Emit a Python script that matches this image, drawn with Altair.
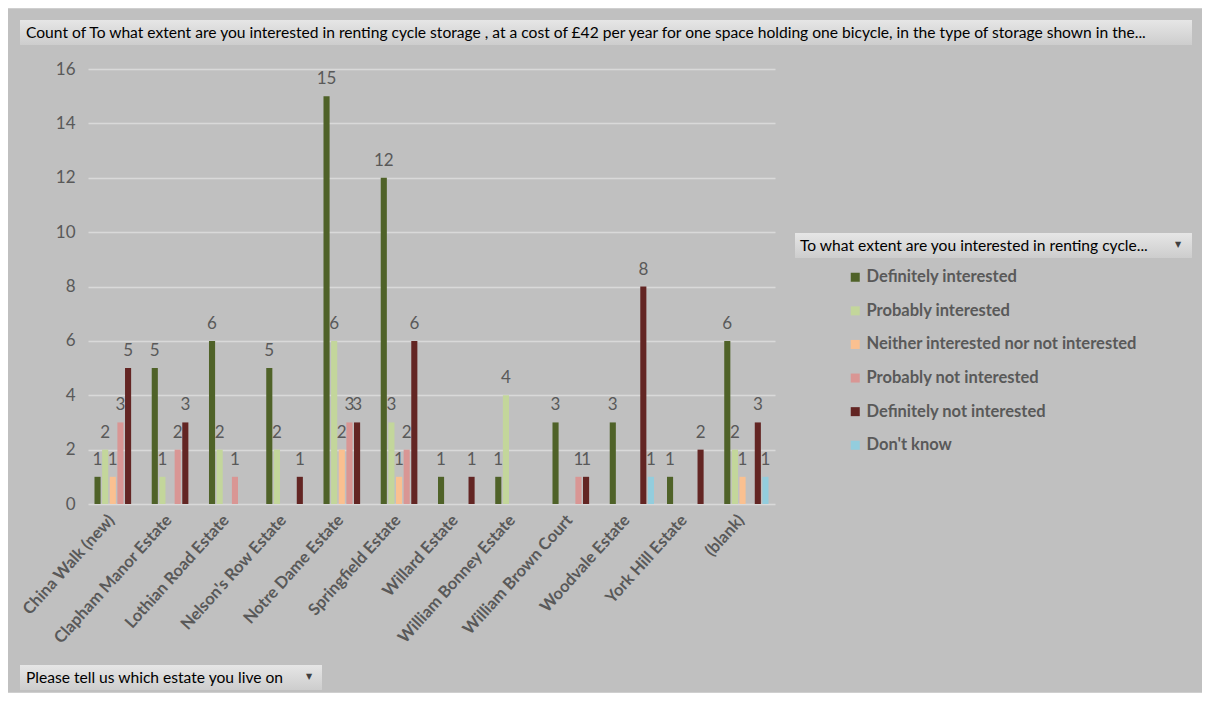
import altair as alt
import pandas as pd

# ---------------- data ----------------
estates = [
    "China Walk (new)", "Clapham Manor Estate", "Lothian Road Estate",
    "Nelson's Row Estate", "Notre Dame Estate", "Springfield Estate",
    "Willard Estate", "William Bonney Estate", "William Brown Court",
    "Woodvale Estate", "York Hill Estate", "(blank)",
]
series = [
    "Definitely interested", "Probably interested",
    "Neither interested nor not interested", "Probably not interested",
    "Definitely not interested", "Don't know",
]
definitely_interested = [1, 5, 6, 5, 15, 12, 1, 1, 3, 3, 1, 6]
probably_interested = [2, 1, 2, 2, 6, 3, 0, 4, 0, 0, 0, 2]
neither = [1, 0, 0, 0, 2, 1, 0, 0, 0, 0, 0, 1]
probably_not = [3, 2, 1, 0, 3, 2, 0, 0, 1, 0, 0, 0]
definitely_not = [5, 3, 0, 1, 3, 6, 1, 0, 1, 8, 2, 3]
dont_know = [0, 0, 0, 0, 0, 0, 0, 0, 0, 1, 0, 1]
y_ticks = [0, 2, 4, 6, 8, 10, 12, 14, 16]

colors = ["#4F6228", "#C3D69B", "#FAC090", "#D99694", "#632523", "#93CDDD"]

title_text = ("Count of To what extent are you interested in renting cycle storage , at a cost of "
              "£42 per year for one space holding one bicycle, in the type of storage shown in the...")
legend_header = "To what extent are you interested in renting cycle..."
axis_button = "Please tell us which estate you live on"

values_by_series = [definitely_interested, probably_interested, neither,
                    probably_not, definitely_not, dont_know]
rows = []
for s, vals in zip(series, values_by_series):
    for e, v in zip(estates, vals):
        rows.append({"estate": e, "response": s, "count": v})
df = pd.DataFrame(rows)

FONT = "Lato"
W, H = 687, 435
BTN = 15.6

x_enc = alt.X(
    "estate:N", sort=estates,
    scale=alt.Scale(paddingInner=0.2, paddingOuter=0.1),
    axis=alt.Axis(title=None, labelAngle=-48, labelFontSize=16.5, labelFontWeight="bold",
                  labelColor="#595959", ticks=False, domain=False, grid=False,
                  labelPadding=13, labelOffset=-5, labelFont=FONT, labelLimit=300),
)
xo_enc = alt.XOffset("response:N", sort=series,
                     scale=alt.Scale(domain=series, paddingInner=0.2, paddingOuter=0.1))
y_enc = alt.Y(
    "count:Q", scale=alt.Scale(domain=[0, 16], nice=False),
    axis=alt.Axis(values=y_ticks, title=None, grid=True, gridColor="#d9d9d9", gridWidth=1.5,
                  ticks=False, domain=False, labelFontSize=17, labelColor="#595959",
                  labelPadding=13, labelFont=FONT),
)

bars = alt.Chart(df).mark_bar().encode(
    x=x_enc, xOffset=xo_enc, y=y_enc,
    color=alt.Color(
        "response:N", sort=series,
        scale=alt.Scale(domain=series, range=colors),
        legend=alt.Legend(title=None, orient="none", legendX=759, legendY=200,
                          symbolType="square", symbolSize=81, symbolStrokeWidth=0,
                          labelFontSize=16.5, labelFontWeight="bold", labelColor="#595959",
                          rowPadding=16.6, labelFont=FONT, padding=0, labelLimit=400,
                          labelOffset=3),
    ),
)

labels = alt.Chart(df).transform_filter("datum.count > 0").mark_text(
    baseline="bottom", dy=-8, fontSize=17, color="#595959", font=FONT
).encode(x=x_enc, xOffset=xo_enc, y=y_enc, text="count:Q")

one = pd.DataFrame({"d": [0]})

grad = alt.LinearGradient(
    gradient="linear",
    stops=[alt.GradientStop(color="#e6e6e6", offset=0),
           alt.GradientStop(color="#cdcdcd", offset=1)],
    x1=0, x2=0, y1=0, y2=1,
)

border = alt.Chart(one).mark_rect(fill="transparent", stroke="#d4d4d4", strokeWidth=1.5).encode(
    x=alt.value(-81), x2=alt.value(1118), y=alt.value(-61), y2=alt.value(624))

title_box = alt.Chart(one).mark_rect(fill=grad).encode(
    x=alt.value(-68), x2=alt.value(1104), y=alt.value(-49), y2=alt.value(-24))
title_txt = alt.Chart(one).mark_text(align="left", baseline="middle", fontSize=BTN,
                                     color="#000000", font=FONT).encode(
    x=alt.value(-62), y=alt.value(-36), text=alt.value(title_text))

leg_box = alt.Chart(one).mark_rect(fill=grad).encode(
    x=alt.value(707), x2=alt.value(1104), y=alt.value(164), y2=alt.value(189))
leg_txt = alt.Chart(one).mark_text(align="left", baseline="middle", fontSize=BTN,
                                   color="#000000", font=FONT).encode(
    x=alt.value(712), y=alt.value(177), text=alt.value(legend_header))
leg_arrow = alt.Chart(one).mark_text(align="center", baseline="middle", fontSize=8,
                                     color="#404040", font="DejaVu Sans").encode(
    x=alt.value(1090), y=alt.value(176), text=alt.value("▼"))

ax_box = alt.Chart(one).mark_rect(fill=grad).encode(
    x=alt.value(-68), x2=alt.value(234), y=alt.value(596), y2=alt.value(621))
ax_txt = alt.Chart(one).mark_text(align="left", baseline="middle", fontSize=BTN,
                                  color="#000000", font=FONT).encode(
    x=alt.value(-62), y=alt.value(609), text=alt.value(axis_button))
ax_arrow = alt.Chart(one).mark_text(align="center", baseline="middle", fontSize=8,
                                    color="#404040", font="DejaVu Sans").encode(
    x=alt.value(221), y=alt.value(608), text=alt.value("▼"))

chart = alt.layer(
    border, title_box, title_txt, leg_box, leg_txt, leg_arrow, ax_box, ax_txt, ax_arrow,
    bars, labels,
).properties(
    width=W, height=H,
    autosize=alt.AutoSizeParams(type="none"),
    padding={"left": 80, "top": 61, "right": 427, "bottom": 189},
    background="#c0c0c0",
).configure_view(stroke="transparent")

chart.save("out.html", embed_options={"renderer": "svg", "actions": False})
